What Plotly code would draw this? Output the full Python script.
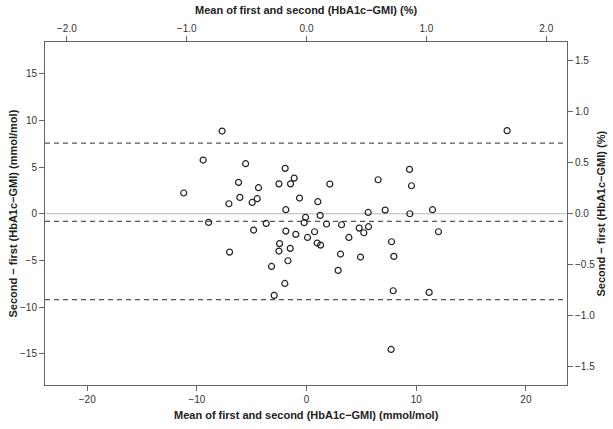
import plotly.graph_objects as go

# Mean of first and second (mmol/mol) and difference second - first (mmol/mol)
mean_vals = [-7.7, -9.43, -5.56, -1.95, -6.2, -1.13, -2.52, -1.46, 2.12, -11.2,
             -4.38, -6.08, -4.5, -4.96, -7.08, -0.64, 1.03, -1.89, -0.09, 1.24,
             -8.93, -3.68, -0.22, 1.82, 3.19, -4.83, -1.89, -0.98, 0.73, 0.09,
             3.86, -2.46, 0.97, 1.28, -1.49, -7.02, -2.52, -1.7, 3.1, -3.19,
             2.88, -1.98, -2.95, 18.29, 9.39, 6.53, 9.57, 7.17, 5.62, 11.49,
             9.42, 4.8, 5.65, 5.22, 12.03, 7.75, 4.92, 7.96, 7.9, 11.18, 7.71]
diff_vals = [8.86, 5.75, 5.36, 4.86, 3.36, 3.82, 3.2, 3.2, 3.18, 2.22,
             2.79, 1.75, 1.61, 1.21, 1.07, 1.68, 1.29, 0.43, -0.39, -0.18,
             -0.93, -1.04, -0.96, -1.1, -1.18, -1.75, -1.86, -2.21, -1.93, -2.54,
             -2.54, -3.2, -3.14, -3.36, -3.71, -4.11, -4.0, -5.04, -4.32, -5.65,
             -6.07, -7.47, -8.75, 8.9, 4.75, 3.64, 3.0, 0.39, 0.14, 0.43,
             0.0, -1.54, -1.39, -2.04, -1.93, -3.0, -4.64, -4.57, -8.25, -8.43, -14.54]

bias = -0.82
upper_loa = 7.57
lower_loa = -9.21

conv = 10.929  # mmol/mol per %
x_range = [-23.85, 23.75]
y_range = [-18.35, 18.4]

x_ticks = [-20, -10, 0, 10, 20]
y_ticks = [-15, -10, -5, 0, 5, 10, 15]
x2_ticks = [-2.0, -1.0, 0.0, 1.0, 2.0]
y2_ticks = [-1.5, -1.0, -0.5, 0.0, 0.5, 1.0, 1.5]

x_title = "Mean of first and second (HbA1c−GMI) (mmol/mol)"
x2_title = "Mean of first and second (HbA1c−GMI) (%)"
y_title = "Second − first (HbA1c−GMI) (mmol/mol)"
y2_title = "Second − first (HbA1c−GMI) (%)"

fig = go.Figure()

fig.add_trace(go.Scatter(
    x=mean_vals, y=diff_vals, mode="markers",
    marker=dict(symbol="circle-open", size=6, color="#222222", line=dict(width=1.2)),
    showlegend=False, hoverinfo="skip"))

# invisible trace for secondary axes
fig.add_trace(go.Scatter(x=[0], y=[0], xaxis="x2", yaxis="y2", mode="markers",
                         marker=dict(opacity=0), showlegend=False, hoverinfo="skip"))

fig.add_shape(type="line", xref="paper", yref="y", x0=0, x1=1, y0=0, y1=0,
              line=dict(color="#b8b8b8", width=1.2), layer="below")
for v in [upper_loa, bias, lower_loa]:
    fig.add_shape(type="line", xref="paper", yref="y", x0=0, x1=1, y0=v, y1=v,
                  line=dict(color="#555555", width=1.2, dash="5px,4px"), layer="below")

tickfont = dict(family="Liberation Sans, Arial", size=10, color="#333333")
titlefont = dict(family="Liberation Sans, Arial", size=11, color="#222222", weight="bold")
axis_common = dict(showgrid=False, zeroline=False, showline=True, linecolor="#666666",
                   linewidth=1, ticks="outside", ticklen=5, tickcolor="#666666",
                   tickfont=tickfont, automargin=False)


def lab(t, fmt):
    return ("−" if t < 0 else "") + format(abs(t), fmt)


fig.update_layout(
    width=613, height=429,
    margin=dict(l=45, r=46, t=42, b=44),
    paper_bgcolor="white", plot_bgcolor="white",
    xaxis=dict(range=x_range, tickvals=x_ticks, ticktext=[lab(t, "g") for t in x_ticks],
               **axis_common),
    xaxis2=dict(range=[r / conv for r in x_range], overlaying="x", side="top", anchor="y",
                tickvals=x2_ticks, ticktext=[lab(t, ".1f") for t in x2_ticks],
                **axis_common),
    yaxis=dict(range=y_range, tickvals=y_ticks, ticktext=[lab(t, "g") for t in y_ticks],
               **axis_common),
    yaxis2=dict(range=[r / conv for r in y_range], overlaying="y", side="right", anchor="x",
                tickvals=y2_ticks, ticktext=[lab(t, ".1f") for t in y2_ticks],
                **axis_common),
    annotations=[
        dict(text=x_title, xref="paper", yref="paper", x=0.5, y=0, yshift=-30,
             xanchor="center", yanchor="middle", showarrow=False, font=titlefont),
        dict(text=x2_title, xref="paper", yref="paper", x=0.5, y=1, yshift=32,
             xanchor="center", yanchor="middle", showarrow=False, font=titlefont),
        dict(text=y_title, xref="paper", yref="paper", x=0, y=0.5, xshift=-33,
             xanchor="center", yanchor="middle", textangle=-90, showarrow=False, font=titlefont),
        dict(text=y2_title, xref="paper", yref="paper", x=1, y=0.5, xshift=33,
             xanchor="center", yanchor="middle", textangle=-90, showarrow=False, font=titlefont),
    ],
)

fig.write_html("out.html", config={"displayModeBar": False},
               post_script="document.body.style.margin='0';")
